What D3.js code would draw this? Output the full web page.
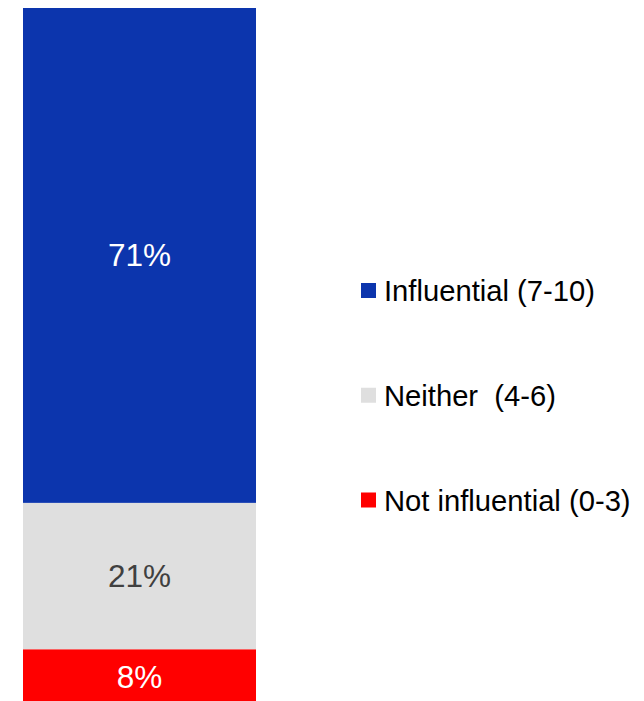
<!DOCTYPE html>
<html>
<head>
<meta charset="utf-8">
<script src="https://cdn.jsdelivr.net/npm/d3@7"></script>
<style>
  body { margin: 0; background: #fff; }
  svg { display: block; font-family: "Liberation Sans", Arial, sans-serif; }
</style>
</head>
<body>
<svg id="chart"></svg>
<script>
// categories, bottom to top of the stack
const categories = ['Not influential (0-3)', 'Neither  (4-6)', 'Influential (7-10)'];
const values = [8, 21, 71];
const colors = ['#ff0000', '#dfdfdf', '#0c35ad'];
const labelColors = ['#ffffff', '#404040', '#ffffff'];
// legend goes top to bottom
const legendOrder = [2, 1, 0];

const width = 644, height = 701;

const svg = d3.select('#chart')
    .attr('width', width)
    .attr('height', height);

// bar runs a bit past the bottom edge of the picture
const y = d3.scaleLinear().domain([0, 100]).range([705, 8]);
const x = d3.scaleBand().domain(['all']).range([23, 256]).padding(0);

// stack the segments
let acc = 0;
const segs = values.map((v, i) => {
    const s = { i, v, y0: acc, y1: acc + v };
    acc += v;
    return s;
});

svg.selectAll('rect.seg')
    .data(segs)
    .join('rect')
    .attr('class', 'seg')
    .attr('x', x('all'))
    .attr('width', x.bandwidth())
    .attr('y', (d) => y(d.y1))
    .attr('height', (d) => y(d.y0) - y(d.y1))
    .attr('fill', (d) => colors[d.i]);

svg.selectAll('text.lbl')
    .data(segs)
    .join('text')
    .attr('class', 'lbl')
    .attr('x', x('all') + x.bandwidth() / 2)
    .attr('y', (d) => (y(d.y0) + y(d.y1)) / 2 + 11)
    .attr('text-anchor', 'middle')
    .attr('font-size', 31.5)
    .attr('fill', (d) => labelColors[d.i])
    .text((d) => d.v + '%');

// legend
const legendY = d3.scalePoint().domain(legendOrder).range([290.5, 500]);

const leg = svg.selectAll('g.leg')
    .data(legendOrder)
    .join('g')
    .attr('class', 'leg')
    .attr('transform', (d) => `translate(361,${legendY(d)})`);

leg.append('rect')
    .attr('x', 0)
    .attr('y', -7.5)
    .attr('width', 15)
    .attr('height', 15)
    .attr('fill', (d) => colors[d]);

leg.append('text')
    .attr('x', 23)
    .attr('y', 10.5)
    .attr('font-size', 29.2)
    .attr('fill', '#000')
    .style('white-space', 'pre')
    .text((d) => categories[d]);
</script>
</body>
</html>
